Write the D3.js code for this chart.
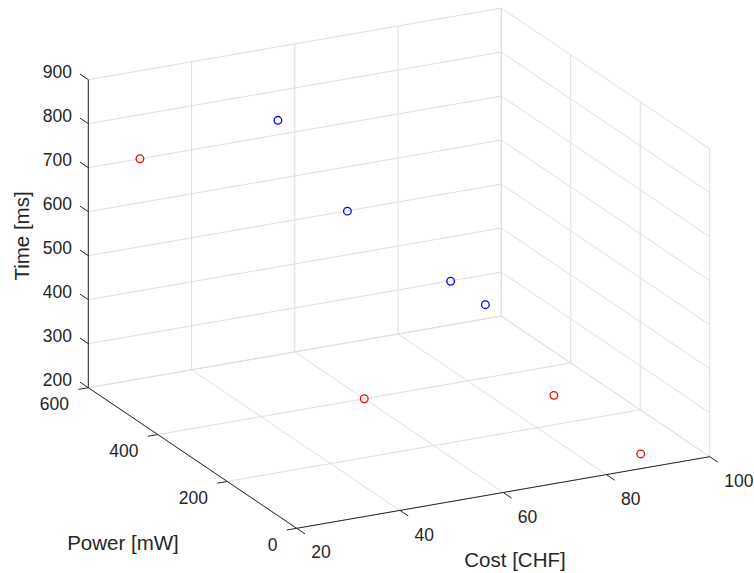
<!DOCTYPE html>
<html>
<head>
<meta charset="utf-8">
<script src="https://cdn.jsdelivr.net/npm/d3@7"></script>
<style>
  body { margin: 0; background: #fff; }
  text { font-family: 'Liberation Sans', Arial, sans-serif; fill: #262626; }
</style>
</head>
<body>
<svg id="chart" width="754" height="573"></svg>
<script>
'use strict'

// axis ticks
const costTicks = [20, 40, 60, 80, 100]
const powerTicks = [0, 200, 400, 600]
const timeTicks = [200, 300, 400, 500, 600, 700, 800, 900]

// points: [cost, power, time]
const redPoints = [[30, 600, 700], [60, 400, 200], [90, 300, 200], [90, 50, 200]]
const bluePoints = [[50, 500, 800], [50, 300, 700], [70, 300, 500], [70, 200, 500]]

const svg = d3.select('#chart')

// normalised scales, then a fixed orthographic view
const cx = d3.scaleLinear().domain([20, 100]).range([0, 1])
const py = d3.scaleLinear().domain([0, 600]).range([0, 1])
const tz = d3.scaleLinear().domain([200, 900]).range([0, 1])

const origin = [296.7, 528.3]
const ex = [413, -71.6]
const ey = [-208.4, -140.6]
const ez = [0, -308]

function proj (c, p, t) {
  const a = cx(c), b = py(p), g = tz(t)
  return [origin[0] + a * ex[0] + b * ey[0] + g * ez[0],
    origin[1] + a * ex[1] + b * ey[1] + g * ez[1]]
}

const gridColor = '#dedede'
const grid = svg.append('g').attr('stroke', gridColor).attr('stroke-width', 1).attr('fill', 'none')

function seg (g, a, b) {
  g.append('line')
    .attr('x1', a[0]).attr('y1', a[1])
    .attr('x2', b[0]).attr('y2', b[1])
}

// floor + back wall (power = 600) for cost grid
costTicks.forEach(c => {
  seg(grid, proj(c, 0, 200), proj(c, 600, 200))
  seg(grid, proj(c, 600, 200), proj(c, 600, 900))
})
// floor + side wall (cost = 100) for power grid
powerTicks.forEach(p => {
  seg(grid, proj(20, p, 200), proj(100, p, 200))
  seg(grid, proj(100, p, 200), proj(100, p, 900))
})
// time grid on both walls
timeTicks.forEach(t => {
  seg(grid, proj(20, 600, t), proj(100, 600, t))
  seg(grid, proj(100, 600, t), proj(100, 0, t))
})

// axes
const axes = svg.append('g').attr('stroke', '#262626').attr('stroke-width', 1).attr('fill', 'none')
seg(axes, proj(20, 0, 200), proj(100, 0, 200))
seg(axes, proj(20, 0, 200), proj(20, 600, 200))
seg(axes, proj(20, 600, 200), proj(20, 600, 900))

const tickLen = 10
const eyLen = Math.hypot(ey[0], ey[1])
const exLen = Math.hypot(ex[0], ex[1])
const labels = svg.append('g').style('font-size', '17.5px')

costTicks.forEach(c => {
  const a = proj(c, 0, 200)
  seg(axes, a, [a[0] - ey[0] / eyLen * tickLen, a[1] - ey[1] / eyLen * tickLen])
  labels.append('text')
    .attr('x', a[0] + 14.5).attr('y', a[1] + 24)
    .attr('dy', '0.35em')
    .text(c)
})
powerTicks.forEach(p => {
  const a = proj(20, p, 200)
  seg(axes, a, [a[0] - ex[0] / exLen * tickLen, a[1] - ex[1] / exLen * tickLen])
  labels.append('text')
    .attr('x', a[0] - 19.3).attr('y', a[1] + 16.5)
    .attr('dy', '0.35em')
    .attr('text-anchor', 'end')
    .text(p)
})
timeTicks.forEach(t => {
  const a = proj(20, 600, t)
  seg(axes, a, [a[0] + ey[0] / eyLen * tickLen, a[1] + ey[1] / eyLen * tickLen])
  labels.append('text')
    .attr('x', 72).attr('y', a[1] - 7.5)
    .attr('dy', '0.35em')
    .attr('text-anchor', 'end')
    .text(t)
})

// axis titles
const titles = svg.append('g').style('font-size', '20.5px').attr('text-anchor', 'middle')
titles.append('text').attr('x', 515).attr('y', 560).attr('dy', '0.35em').text('Cost [CHF]')
titles.append('text').attr('x', 123).attr('y', 543).attr('dy', '0.35em').text('Power [mW]')
titles.append('text')
  .attr('transform', 'translate(22,236) rotate(-90)')
  .attr('dy', '0.35em')
  .text('Time [ms]')

// markers
function drawPoints (data, color) {
  svg.append('g')
    .selectAll('circle')
    .data(data)
    .enter().append('circle')
      .attr('cx', d => proj(d[0], d[1], d[2])[0])
      .attr('cy', d => proj(d[0], d[1], d[2])[1])
      .attr('r', 3.8)
      .attr('fill', 'none')
      .attr('stroke', color)
      .attr('stroke-width', 1.3)
}
drawPoints(redPoints, '#ff0000')
drawPoints(bluePoints, '#0000ff')
</script>
</body>
</html>
